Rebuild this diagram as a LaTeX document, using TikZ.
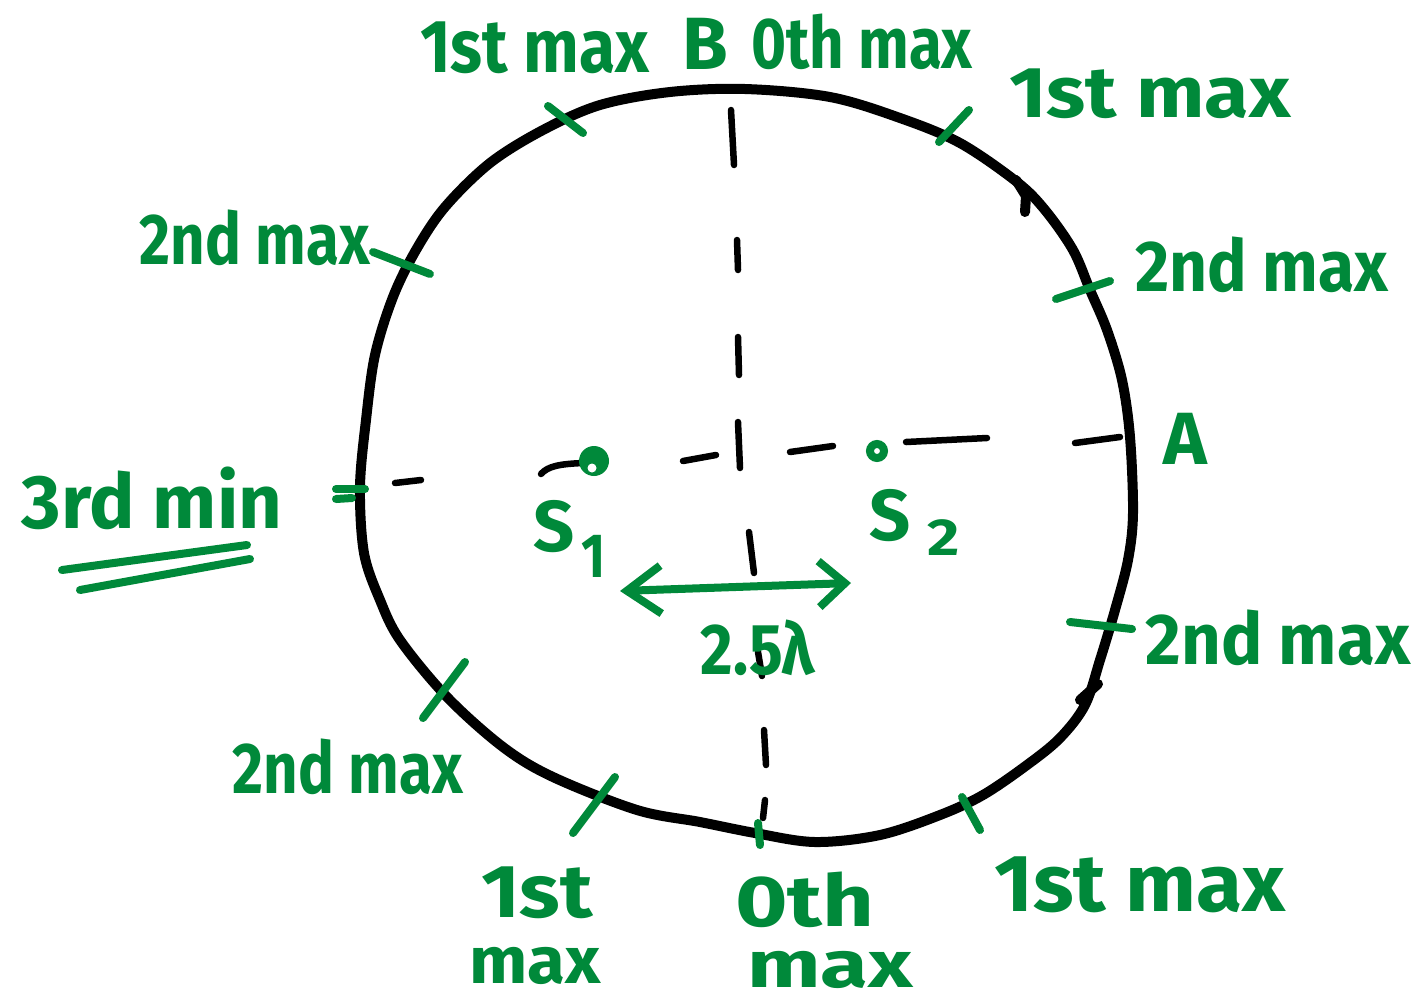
\documentclass[tikz,border=0pt]{standalone}
\usepackage{fontspec}
\setmainfont{Fira Sans}
\usetikzlibrary{arrows.meta}
\definecolor{grn}{RGB}{0,137,58}
\begin{document}
\begin{tikzpicture}[x=1pt,y=-1pt,
  circ/.style={line width=10pt, black, line join=round, line cap=round},
  dsh/.style={line width=6.5pt, black, line cap=round},
  tick/.style={line width=8pt, grn, line cap=round},
  lbl/.style={text=grn, inner sep=0pt, font=\fontsize{60}{64}\selectfont\bfseries},
  big/.style={text=grn, inner sep=0pt, font=\fontsize{74}{78}\selectfont\bfseries},
  sub/.style={text=grn, inner sep=0pt, font=\fontsize{52}{54}\selectfont\bfseries},
]
\useasboundingbox (0,0) rectangle (1422,1005);
\fill[white] (0,0) rectangle (1422,1005);

% the wavefront circle
\draw[circ] plot[smooth cycle, tension=0.55] coordinates {
 (745,89) (830,97) (900,118) (960,143) (1017,182) (1045,210) (1073,250)
 (1090,290) (1107,330) (1122,380) (1130,437) (1133,513) (1128,560)
 (1115,610) (1100,660) (1085,705) (1060,738) (1027,765) (983,795)
 (940,815) (880,835) (815,842) (755,833) (700,822) (637,810) (553,777)
 (503,747) (447,697) (400,640) (380,600) (364,553) (360,487) (366,420)
 (375,355) (393,297) (416,250) (445,207) (490,163) (543,130) (600,105) (670,92)};
\draw[circ] (1016,180) -- (1026,196) -- (1025,212);
\draw[circ] (1080,700) -- (1098,684);

% vertical dashed line
\coordinate (v0) at (731,110);
\draw[dsh] (v0) -- (734,165);
\draw[dsh] (737,240) -- (738,270);
\draw[dsh] (738,337) -- (739,375);
\draw[dsh] (738,422) -- (740,468);
\draw[dsh] (749,532) -- (754,573);
\draw[dsh] (758,652) -- (762,676);
\draw[dsh] (764,730) -- (766,765);
\draw[dsh] (765,800) -- (763,818);

% horizontal dashed line
\draw[dsh] (395,483) -- (421,480);
\draw[dsh] (541,474) .. controls (548,466) and (560,464) .. (583,463);
\draw[dsh] (683,461) -- (716,455);
\draw[dsh] (790,452) -- (833,446);
\draw[dsh] (906,442) -- (987,438);
\draw[dsh] (1075,443) -- (1120,437);

% sources
\node[circle, fill=grn, minimum size=30pt, inner sep=0pt] (s1) at (594,461) {};
\fill[white] (592,468) circle (4.5);
\node[circle, draw=grn, line width=8pt, minimum size=14pt, inner sep=0pt] (s2) at (877,451) {};

\node[lbl, font=\fontsize{72}{74}\selectfont\bfseries] (s1S) at (554,527) {S};
\node[sub] (s1n) at (594,556) {\scalebox{1}[1.2]{1}};
\node[lbl, font=\fontsize{72}{74}\selectfont\bfseries] (s2S) at (890,516) {S};
\node[sub] (s2n) at (944,538) {\scalebox{1.2}[1]{2}};

% separation arrow
\coordinate (arL) at (620,591);
\coordinate (arR) at (851,583);
\draw[tick, {Straight Barb[length=34pt,width=48pt]}-{Straight Barb[length=26pt,width=46pt]}] (arL) -- (arR);
\node[lbl] (sep) at (758,648) {\scalebox{1.05}[1.2]{2.5λ}};

% ticks on the circle
\draw[tick] (548,106) -- (583,133);
\draw[tick] (969,110) -- (939,142);
\draw[tick] (373,252) -- (430,274);
\draw[tick] (1056,299) -- (1110,281);
\draw[tick] (336,489) -- (365,489);
\draw[tick] (336,499) -- (352,498);
\draw[tick] (1070,622) -- (1132,629);
\draw[tick] (465,662) -- (423,718);
\draw[tick] (615,777) -- (573,833);
\draw[tick] (758,823) -- (760,845);
\draw[tick] (962,797) -- (980,830);

% labels
\node[lbl] (t1) at (535,48) {\scalebox{1.1}[1.25]{1st max}};
\node[big] (tB) at (705,44) {B};
\node[lbl] (t0) at (862,42) {\scalebox{1}[1.2]{0th max}};
\node[lbl] (tr1) at (1150,94) {\scalebox{1.35}[1.2]{1st max}};
\node[lbl] (l2) at (255,238) {\scalebox{1}[1.2]{2nd max}};
\node[lbl] (r2) at (1262,265) {\scalebox{1.1}[1.2]{2nd max}};
\node[big] (A) at (1185,439) {A};
\node[lbl, font=\fontsize{66}{70}\selectfont\bfseries] (m3) at (152,498) {\scalebox{1.15}[1.15]{3rd min}};
\draw[tick] (62,570) -- (247,545);
\draw[tick] (80,590) -- (250,559);
\node[lbl] (r2b) at (1278,638) {\scalebox{1.15}[1.2]{2nd max}};
\node[lbl] (l2b) at (348,767) {\scalebox{1}[1.2]{2nd max}};
\node[lbl] (b1a) at (537,893) {\scalebox{1.4}[1.25]{1st}};
\node[lbl] (b1b) at (535,966) {\scalebox{1.15}[1.1]{max}};
\node[lbl] (b0a) at (805,900) {\scalebox{1.5}[1.2]{0th}};
\node[lbl] (b0b) at (830,970) {\scalebox{1.45}[1.1]{max}};
\node[lbl] (br1) at (1140,885) {\scalebox{1.4}[1.35]{1st max}};
\end{tikzpicture}
\end{document}
